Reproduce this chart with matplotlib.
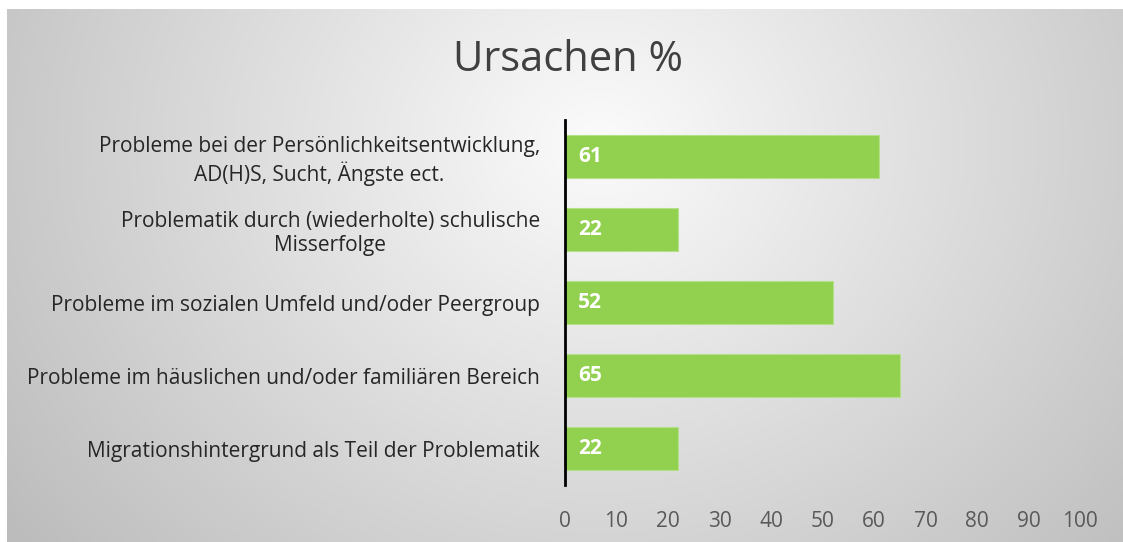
import numpy as np
import matplotlib
matplotlib.use("Agg")
import matplotlib.pyplot as plt

categories = [
    "Probleme bei der Persönlichkeitsentwicklung,\nAD(H)S, Sucht, Ängste ect.",
    "Problematik durch (wiederholte) schulische\nMisserfolge",
    "Probleme im sozialen Umfeld und/oder Peergroup",
    "Probleme im häuslichen und/oder familiären Bereich",
    "Migrationshintergrund als Teil der Problematik",
]
values = [61, 22, 52, 65, 22]
xticks = [0, 10, 20, 30, 40, 50, 60, 70, 80, 90, 100]
title = "Ursachen %"

W, H = 1123, 542
fig = plt.figure(figsize=(W / 100, H / 100), dpi=100)
fig.patch.set_facecolor("white")

# background gradient panel
bg = fig.add_axes([7 / W, 0, 1 - 7 / W, (H - 9) / H])
bg.set_axis_off()
ny, nx = 200, 400
yy, xx = np.mgrid[0:ny, 0:nx]
cx, cy = 0.53 * nx, 0.25 * ny
d = np.sqrt(((xx - cx) / nx) ** 2 + ((yy - cy) / ny * 0.55) ** 2)
d = d / d.max()
shade = 0.985 - 0.25 * np.clip(d, 0, 1) ** 1.0
img = np.dstack([shade, shade, shade])
bg.imshow(img, aspect="auto", extent=[0, 1, 0, 1], origin="upper")
bg.set_xlim(0, 1)
bg.set_ylim(0, 1)

fam = ["Open Sans", "DejaVu Sans"]
ax = fig.add_axes([565 / W, 57 / H, (1080 - 565) / W, 365 / H])
ax.set_facecolor("none")
ypos = np.arange(len(categories))[::-1]
ax.barh(ypos, values, height=0.6, color="#92D050", edgecolor="#B5E08A", linewidth=0.8)
for y, v in zip(ypos, values):
    ax.text(2.5, y, str(v), color="white", fontweight="bold", fontsize=15,
            va="center", ha="left", family=fam)
ax.set_xlim(0, 100)
ax.set_ylim(-0.5, 4.5)
ax.set_yticks(ypos)
ax.set_yticklabels(categories, fontsize=15, color="#262626", family=fam,
                   multialignment="center")
ax.set_xticks(xticks)
ax.set_xticklabels([str(t) for t in xticks], fontsize=15, color="#595959", family=fam)
ax.tick_params(axis="both", length=0)
ax.tick_params(axis="y", pad=18)
ax.tick_params(axis="x", pad=19)
for s in ["top", "right", "bottom"]:
    ax.spines[s].set_visible(False)
ax.spines["left"].set_linewidth(2)
ax.spines["left"].set_color("black")

fig.text(568 / W, 1 - 60 / H, title, fontsize=30, color="#404040", ha="center", va="center",
         family=fam)

fig.savefig("out.png", dpi=100)
